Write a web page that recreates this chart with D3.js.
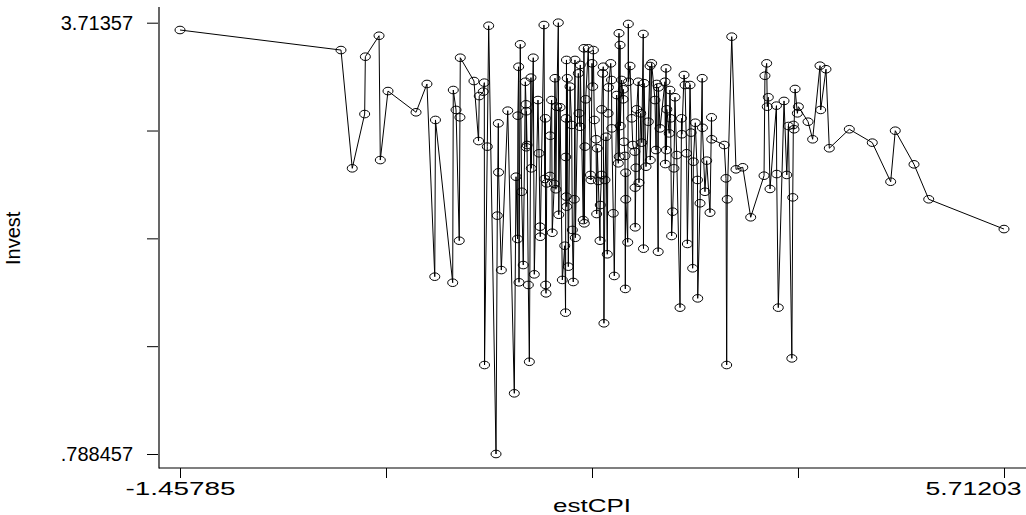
<!DOCTYPE html>
<html>
<head>
<meta charset="utf-8">
<script src="https://cdn.jsdelivr.net/npm/d3@7"></script>
<style>
  html, body { margin: 0; padding: 0; background: #fff; }
  svg { display: block; }
  text { font-family: "Liberation Sans", Arial, Helvetica, sans-serif; fill: #000; }
</style>
</head>
<body>
<div id="chart"></div>
<script>
// estCPI (x) and Invest (y), sorted by estCPI
var estCPI = [
  -1.45785, -0.057, 0.041, 0.149, 0.155, 0.274, 0.285, 0.352, 0.596, 0.691, 0.759, 0.765, 0.915, 0.920, 0.944, 0.972, 0.978, 0.981,
  1.100, 1.140, 1.146, 1.181, 1.190, 1.192, 1.216, 1.228, 1.292, 1.303, 1.312, 1.314, 1.338, 1.394, 1.451, 1.466, 1.479, 1.482, 1.489, 1.492,
  1.503, 1.515, 1.529, 1.547, 1.553, 1.555, 1.556, 1.562, 1.573, 1.582, 1.596, 1.599, 1.616, 1.625, 1.657, 1.666, 1.675, 1.677, 1.709, 1.716,
  1.721, 1.724, 1.727, 1.733, 1.762, 1.764, 1.776, 1.781, 1.799, 1.805, 1.813, 1.820, 1.834, 1.838, 1.849, 1.869, 1.890, 1.897, 1.899, 1.901,
  1.903, 1.905, 1.907, 1.912, 1.921, 1.936, 1.950, 1.956, 1.964, 1.973, 1.979, 1.982, 2.008, 2.014, 2.023, 2.025,
  2.051, 2.057, 2.060, 2.066, 2.072, 2.095, 2.114, 2.118, 2.127, 2.133, 2.139, 2.147, 2.162, 2.168, 2.173, 2.182, 2.197, 2.199, 2.210, 2.212,
  2.220, 2.225, 2.231, 2.240, 2.249, 2.260, 2.267, 2.270, 2.290, 2.297, 2.299, 2.312, 2.321, 2.342, 2.356, 2.362, 2.364, 2.371, 2.373, 2.385,
  2.398, 2.400, 2.405, 2.414, 2.417, 2.420, 2.421, 2.438, 2.443, 2.445, 2.458, 2.473, 2.482, 2.500, 2.502, 2.503, 2.510, 2.516, 2.530, 2.536,
  2.551, 2.560, 2.573, 2.575, 2.580, 2.597, 2.617, 2.632, 2.634, 2.646, 2.675, 2.684, 2.690, 2.703, 2.705, 2.719, 2.762, 2.765, 2.771, 2.775,
  2.778, 2.799, 2.805, 2.811, 2.820, 2.829, 2.840, 2.849, 2.864,
  2.893, 2.906, 2.909, 2.928, 2.937, 2.950, 2.957, 2.980, 2.989, 3.003, 3.009, 3.026, 3.045, 3.047, 3.067, 3.086, 3.088, 3.110, 3.125, 3.154,
  3.167, 3.169, 3.278, 3.293, 3.299, 3.304, 3.343, 3.380, 3.439, 3.508, 3.624, 3.632, 3.647, 3.652, 3.661, 3.676, 3.732, 3.734, 3.748, 3.798,
  3.822, 3.836, 3.866, 3.874, 3.879, 3.885, 3.894, 3.914, 3.923,
  4.007, 4.047, 4.111, 4.117, 4.163, 4.192, 4.366, 4.566, 4.726, 4.766, 4.929, 5.057, 5.71203
];
var invest = [
  3.664, 3.528, 2.726, 3.094, 3.483, 3.625, 2.782, 3.250, 3.106, 3.298, 1.991, 3.054, 1.950, 3.257, 3.122, 2.235, 3.072, 3.476,
  3.318, 2.911, 3.216, 3.246, 3.307, 1.392, 2.873, 3.693, 0.788457, 2.405, 3.031, 2.699, 2.036, 3.117, 1.200, 2.669, 2.247, 3.083, 3.415, 1.953,
  3.567, 2.567, 2.070, 3.313, 3.160, 2.869, 3.113, 2.884, 1.935, 1.414, 3.341, 2.726, 3.476, 2.007, 3.189, 2.828, 2.330, 2.262, 3.698, 2.654,
  3.065, 1.935, 1.878, 2.624, 2.674, 2.947, 3.189, 2.289, 2.620, 3.337, 2.584, 3.144, 3.71357, 2.411, 3.140, 1.969, 2.201, 1.747, 2.803, 3.065,
  2.534, 3.461, 2.466, 3.337, 2.059, 3.280, 3.020, 2.308, 1.955, 2.516, 3.461, 2.255, 3.370, 3.099, 3.008, 3.427,
  2.375, 3.540, 2.353, 2.873, 3.194, 3.540, 2.681, 2.647, 3.438, 3.280, 3.528, 3.054, 2.923, 2.416, 2.862, 2.640, 2.235, 2.477, 2.681, 3.126,
  3.370, 3.415, 1.675, 2.647, 2.940, 2.143, 3.099, 3.275, 3.438, 3.325, 2.997, 2.421, 1.996, 3.223, 2.760, 3.642, 2.805, 3.562, 3.013, 3.325,
  3.194, 3.262, 2.906, 2.810, 1.908, 2.696, 2.516, 2.224, 3.705, 3.313, 3.420, 3.065, 2.884, 2.839, 2.595, 2.326, 2.730, 3.126, 3.313, 2.628,
  3.099, 2.900, 3.637, 2.181, 3.303, 2.737, 3.042, 3.420, 2.782, 3.438, 3.189, 2.850, 3.298, 2.160, 3.275, 2.997, 3.313, 2.755, 3.404, 2.850,
  3.126, 2.963, 3.257, 3.065, 2.267, 2.432, 2.726, 3.208, 2.816,
  1.781, 3.065, 2.957, 3.359, 3.291, 2.828, 2.213, 3.291, 2.968, 2.048, 2.771, 3.035, 2.647, 1.844, 2.489, 3.337, 3.001, 2.567, 2.778, 2.425,
  3.072, 2.923, 2.884, 2.658, 1.392, 2.516, 3.619, 2.719, 2.733, 2.394, 2.676, 3.354, 3.438, 3.144, 3.208, 2.586, 3.151, 2.687, 1.781, 3.183,
  2.681, 3.013, 1.437, 2.529, 3.020, 2.991, 3.264, 3.099, 3.144,
  3.042, 2.923, 3.422, 3.122, 3.398, 2.862, 2.991, 2.900, 2.635, 2.981, 2.753, 2.516, 2.314
];
// ticks: min / max labelled, three unlabelled in between
var xTicks = [-1.45785, 0.334625, 2.12709, 3.919555, 5.71203];
var xTickLabels = ["-1.45785", "", "", "", "5.71203"];
var yTicks = [0.788457, 1.5197353, 2.2510135, 2.9822918, 3.71357];
var yTickLabels = [".788457", "", "", "", "3.71357"];

var W = 1026, H = 515;
var left = 159, bottom = 468;

var svg = d3.select("#chart").append("svg").attr("width", W).attr("height", H);

var x = d3.scaleLinear().domain([xTicks[0], xTicks[4]]).range([180, 1004]);
var y = d3.scaleLinear().domain([yTicks[0], yTicks[4]]).range([454, 22.7]);

var pts = estCPI.map(function (v, i) { return { x: v, y: invest[i] }; });
pts.sort(function (a, b) { return a.x - b.x; });

// y axis
var yAxis = d3.axisLeft(y).tickValues(yTicks).tickSize(12).tickPadding(14)
  .tickFormat(function (d, i) { return yTickLabels[i]; });
var gy = svg.append("g").attr("transform", "translate(" + left + ",0)").call(yAxis);
gy.select(".domain").remove();
gy.selectAll(".tick line").attr("stroke", "#000").attr("x2", -12).attr("x1", -1);
gy.selectAll(".tick text").attr("font-size", 20).attr("font-family", null).attr("dy", "0.34em");

// x axis, labels drawn wide as in the original export
var xAxis = d3.axisBottom(x).tickValues(xTicks).tickSize(10).tickPadding(8)
  .tickFormat(function (d, i) { return xTickLabels[i]; });
var gx = svg.append("g").attr("transform", "translate(0," + bottom + ")").call(xAxis);
gx.select(".domain").remove();
gx.selectAll(".tick line").attr("stroke", "#000");
gx.selectAll(".tick text").attr("font-size", 19).attr("font-family", null)
  .attr("dy", null).attr("y", 27)
  .each(function (d, i) {
    var t = d3.select(this);
    if (i === 0) t.attr("textLength", 110).attr("lengthAdjust", "spacingAndGlyphs");
    if (i === xTicks.length - 1) {
      t.attr("text-anchor", "end").attr("x", 1021 - x(d))
        .attr("textLength", 96).attr("lengthAdjust", "spacingAndGlyphs");
    }
  });

svg.append("line").attr("x1", left).attr("x2", left).attr("y1", 7).attr("y2", bottom + 0.5)
  .attr("stroke", "#000").attr("stroke-width", 1.2);
svg.append("line").attr("x1", left).attr("x2", W).attr("y1", bottom).attr("y2", bottom)
  .attr("stroke", "#000").attr("stroke-width", 1.2);

// titles
svg.append("text").attr("x", (x.range()[0] + x.range()[1]) / 2).attr("y", 512)
  .attr("text-anchor", "middle").attr("font-size", 19)
  .attr("textLength", 78).attr("lengthAdjust", "spacingAndGlyphs").text("estCPI");
svg.append("text").attr("transform", "translate(20," + ((y.range()[0] + y.range()[1]) / 2) + ") rotate(-90)")
  .attr("text-anchor", "middle").attr("font-size", 20).text("Invest");

// connected line + hollow markers
var line = d3.line().x(function (d) { return x(d.x); }).y(function (d) { return y(d.y); });
svg.append("path").datum(pts).attr("d", line)
  .attr("fill", "none").attr("stroke", "#000").attr("stroke-width", 1);

svg.append("g").selectAll("ellipse").data(pts).enter().append("ellipse")
  .attr("cx", function (d) { return x(d.x); })
  .attr("cy", function (d) { return y(d.y); })
  .attr("rx", 5).attr("ry", 3.8)
  .attr("fill", "none").attr("stroke", "#000").attr("stroke-width", 1);
</script>
</body>
</html>
